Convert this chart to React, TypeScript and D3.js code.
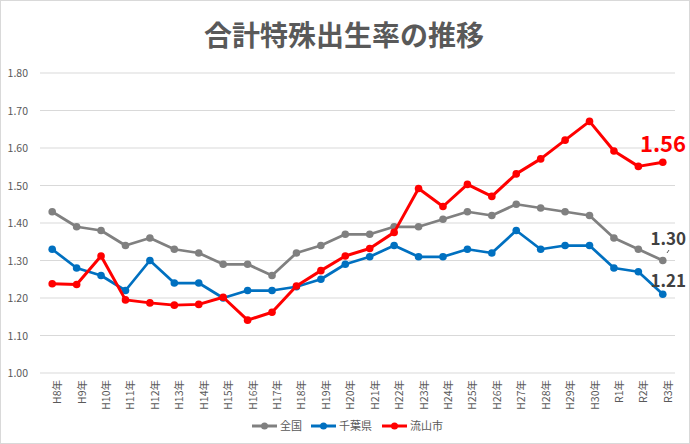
import React from "react";
import * as d3 from "d3";

const categories = ["H8年","H9年","H10年","H11年","H12年","H13年","H14年","H15年","H16年","H17年","H18年","H19年","H20年","H21年","H22年","H23年","H24年","H25年","H26年","H27年","H28年","H29年","H30年","R1年","R2年","R3年"];
const national = [1.43,1.39,1.38,1.34,1.36,1.33,1.32,1.29,1.29,1.26,1.32,1.34,1.37,1.37,1.39,1.39,1.41,1.43,1.42,1.45,1.44,1.43,1.42,1.36,1.33,1.30];
const chiba = [1.33,1.28,1.26,1.22,1.30,1.24,1.24,1.20,1.22,1.22,1.23,1.25,1.29,1.31,1.34,1.31,1.31,1.33,1.32,1.38,1.33,1.34,1.34,1.28,1.27,1.21];
const nagareyama = [1.238,1.236,1.312,1.195,1.187,1.181,1.183,1.202,1.141,1.162,1.232,1.273,1.312,1.332,1.375,1.492,1.444,1.503,1.471,1.531,1.571,1.621,1.671,1.592,1.551,1.562];
const yTicks = [1.0,1.1,1.2,1.3,1.4,1.5,1.6,1.7,1.8];
const seriesNames = ["全国","千葉県","流山市"];
const endLabels = ["1.30","1.21","1.56"];

const W = 690, H = 444;
const FONT = "'Noto Sans CJK JP', 'Noto Sans', sans-serif";
const colors = ["#808080", "#0070c0", "#ff0000"];

export default function App() {
  const x = d3.scaleBand<string>().domain(categories).range([40, 675]);
  const y = d3.scaleLinear().domain([1.0, 1.8]).range([373, 73]);
  const cx = (c: string) => (x(c) as number) + x.bandwidth() / 2;
  const line = d3.line<number>().x((_, i) => cx(categories[i])).y((v) => y(v));
  const series = [national, chiba, nagareyama];

  return (
    <svg width={W} height={H} style={{ position: "absolute", left: 0, top: 0 }} fontFamily={FONT}>
      <rect x={0.5} y={0.5} width={W - 1} height={H - 1} fill="#fff" stroke="#d9d9d9" />
      <text x={344} y={46} textAnchor="middle" fontSize={28} fontWeight="bold" fill="#595959">合計特殊出生率の推移</text>
      {yTicks.map((t) => (
        <g key={t}>
          <line x1={40} x2={675} y1={y(t)} y2={y(t)} stroke="#d9d9d9" strokeWidth={1} />
          <text x={28} y={y(t) + 4} textAnchor="end" fontSize={10.5} fill="#595959">{t.toFixed(2)}</text>
        </g>
      ))}
      {categories.map((c) => (
        <text key={c} transform={`translate(${cx(c) + 9},${380}) rotate(-90)`} textAnchor="end" fontSize={10.5} fill="#595959">{c}</text>
      ))}
      {series.map((s, k) => (
        <g key={k}>
          <path d={line(s) as string} fill="none" stroke={colors[k]} strokeWidth={k === 2 ? 3 : 2.75} strokeLinejoin="round" />
          {s.map((v, i) => (
            <circle key={i} cx={cx(categories[i])} cy={y(v)} r={3.8} fill={colors[k]} />
          ))}
        </g>
      ))}
      <line x1={667} y1={253} x2={669} y2={250} stroke="#595959" strokeWidth={1} />
      <text x={686} y={245} textAnchor="end" fontSize={17} fontWeight="bold" fill="#404040">{endLabels[0]}</text>
      <text x={686} y={287} textAnchor="end" fontSize={17} fontWeight="bold" fill="#404040">{endLabels[1]}</text>
      <text x={686} y={152} textAnchor="end" fontSize={22} fontWeight="bold" fill="#ff0000">{endLabels[2]}</text>
      {seriesNames.map((n, k) => {
        const lx = [252, 311, 382][k];
        return (
          <g key={n}>
            <line x1={lx} x2={lx + 25} y1={426} y2={426} stroke={colors[k]} strokeWidth={3} />
            <circle cx={lx + 12.5} cy={426} r={3.5} fill={colors[k]} />
            <text x={lx + 28} y={430} fontSize={11} fill="#595959">{n}</text>
          </g>
        );
      })}
    </svg>
  );
}
